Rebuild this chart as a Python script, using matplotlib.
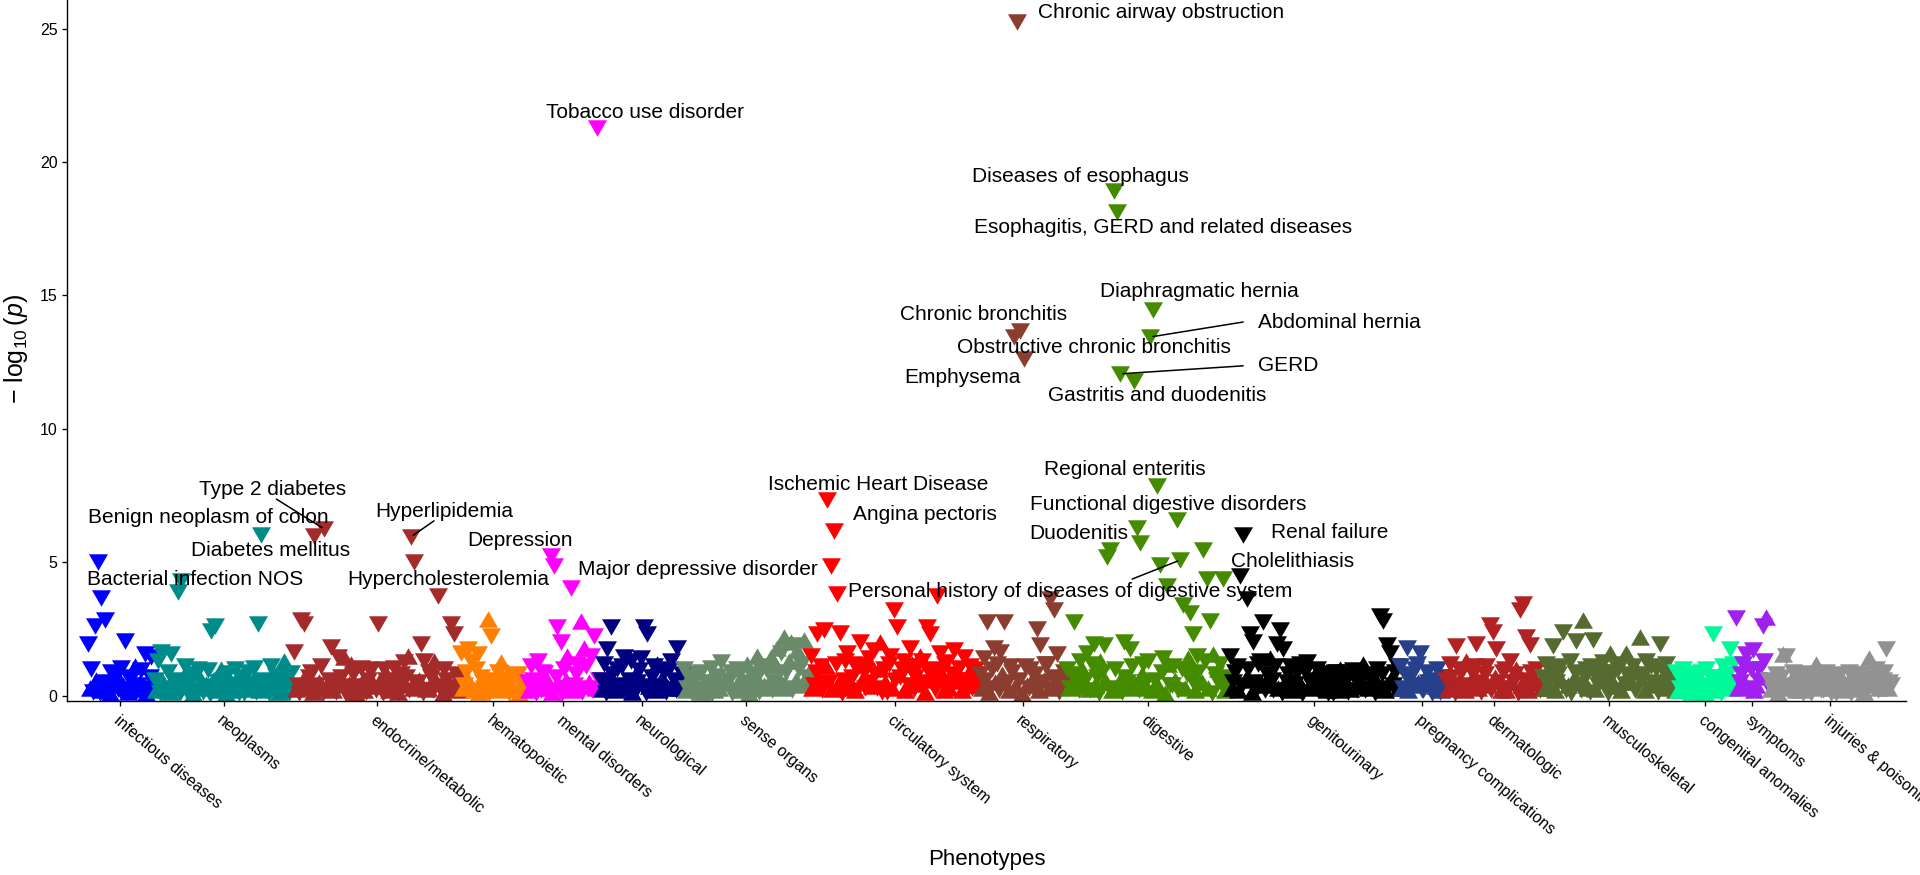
import numpy as np
import matplotlib.pyplot as plt

plt.rcParams['font.family'] = ['Liberation Sans', 'DejaVu Sans']
plt.rcParams['mathtext.fontset'] = 'custom'
plt.rcParams['mathtext.rm'] = 'Liberation Sans'
plt.rcParams['mathtext.it'] = 'Liberation Sans:italic'

#############################
# Data: -log10(p) per phenotype, in phecode order inside each group.
# Sign carries the direction of the association (negative -> downward triangle)
categories = ['infectious diseases', 'neoplasms', 'endocrine/metabolic', 'hematopoietic',
              'mental disorders', 'neurological', 'sense organs', 'circulatory system',
              'respiratory', 'digestive', 'genitourinary', 'pregnancy complications',
              'dermatologic', 'musculoskeletal', 'congenital anomalies', 'symptoms',
              'injuries & poisonings']
colors = ['#0000FF', '#008B8B', '#A52A2A', '#FF7F00', '#FF00FF', '#000080', '#698B69',
          '#FF0000', '#8B3E2F', '#458B00', '#000000', '#27408B', '#B22222', '#556B2F',
          '#00FA9A', '#A020F0', '#929292']

infectious = [-1.95, 0.3, -1.0, -0.15, -2.6, 0.6, -5.0, -0.1, -3.65, 0.2, -2.85, -0.5, 0.2, 0.1,
              -0.9, -0.3, 0.5, 0.8, -0.25, -0.2, -1.05, 0.4, -2.05, -0.1, 0.15, -0.6, -0.7, 0.25,
              1.1, -0.15, -0.4, 0.5, -0.95, -0.3, -1.55, 0.1, 0.3, -0.7, -1.45, 0.3]
neoplasms = [-0.6, 0.2, -1.3, -0.1, -1.65, 0.5, 0.3, -0.3, -0.9, 0.15, -1.55, -0.6, -0.2, 0.35,
             -3.9, -0.1, -4.3, 0.7, -1.1, -0.2, 0.4, -0.5, -0.75, 0.1, -0.15, -0.8, -1.0, 0.3,
             0.6, -0.15, -0.35, 0.45, -0.95, -0.05, -2.42, 0.6, -2.62, -0.3, -0.5, 0.2, 1.0, -0.6,
             -0.25, 0.1, -0.85, 0.4, 0.2, -0.2, -1.0, 0.55, -0.45, -0.1, 0.7, -0.7, -0.1, 0.25,
             -0.9, -0.3, -0.4, 0.6, -1.05, -0.15, -2.68, 0.2, -6.02, -0.5, -0.6, 0.35, 0.35, -0.1,
             -1.1, 0.5, -0.3, -0.75, 0.9, 0.15, -0.7, -0.3, 1.3, 0.65, -0.2, -0.1, -0.85, 0.3]
endocrine = [-1.63, 0.25, -0.4, -0.1, -2.85, 0.6, -2.7, -0.3, 0.3, -0.7, -0.9, 0.15, -5.98, -0.4,
             -0.2, 0.5, -1.1, -0.1, -6.24, 0.3, 0.5, -0.6, -1.83, 0.2, -0.3, -0.15, -1.45, 0.7,
             -0.7, -0.35, 1.45, -0.05, -0.15, 0.45, 1.2, -0.8, -0.9, 0.1, -0.35, -0.3, -1.05, 0.6,
             0.2, -0.15, -0.6, -1.0, -0.95, 0.35, 0.4, -0.2, -2.68, 0.5, -0.25, -0.1, -1.0, -0.6,
             0.7, 0.2, -0.45, -0.3, -1.05, 0.8, 0.15, -0.1, -0.8, 0.4, -1.25, -0.7, 1.5, -0.2,
             -5.95, 0.3, -5.0, -0.45, -0.5, 0.6, -1.95, -0.1, -1.3, 0.25, 0.3, -0.9, -0.7, -0.2,
             1.3, 0.55, -3.74, -0.35, -0.2, 0.1, -1.0, -0.6, 0.5, -0.15, -2.7, 0.4, -2.3, -0.8,
             -0.6, 0.2]
hematopoietic = [-1.6, 0.3, -0.4, -0.9, -1.75, 0.5, -1.3, -0.2, 0.2, -1.0, -1.55, 0.15, -0.7,
                 -0.5, -0.3, 0.7, 2.87, -0.1, -2.23, 0.3, 0.6, -0.6, -0.9, 0.2, 1.25, -0.35, -0.25,
                 0.55, 0.9, -0.1, -0.6, 0.25, -0.15, -0.7, -0.8, 0.1, 0.35, -0.3, -0.5, 0.6]
mental = [-0.5, 0.2, -1.1, -0.6, 0.3, -0.1, -1.3, 0.5, -0.2, -0.9, -0.85, 0.3, 0.6, -0.2, -5.25,
          0.15, -4.85, -0.7, -2.57, 0.4, -2.0, -0.1, -1.0, 0.6, 1.5, -0.3, -4.03, 0.2, -0.4, -0.8,
          -1.2, 0.35, 2.8, -0.15, 1.8, -1.1, -0.3, 0.5, -1.5, -0.2, -2.25, 0.3, -21.26, -0.6]
neurological = [-0.6, 0.25, -1.2, -0.1, -1.75, 0.6, -2.58, -0.8, -0.3, 0.2, -1.0, -0.4, 0.4, -1.1,
                -1.45, 0.3, -0.2, -0.6, -1.3, 0.15, 0.7, -0.2, -0.5, -0.95, -1.4, 0.5, -2.58, -0.1,
                -2.3, 0.35, -0.35, -0.7, -1.1, 0.2, 1.2, -0.3, -0.25, 0.65, -0.9, -0.15, 0.3, -1.0,
                -1.3, 0.4, -0.6, -0.2, -1.79, 0.3, -0.4, -0.8]
sense = [-1.0, 0.2, -0.3, -0.7, 0.8, -0.1, -0.6, 0.45, -0.15, -0.85, -0.9, 0.15, 0.35, -0.3, -0.5,
         0.6, -1.05, -0.1, 0.2, -0.75, -0.7, 0.3, -1.26, -0.2, -0.4, 0.5, 0.6, -0.6, -0.9, -0.1,
         -0.2, 0.35, -1.0, -0.8, 0.5, 0.2, -0.35, -0.5, 1.2, 0.1, -0.8, -0.3, -0.1, 0.7, 1.5, -0.15,
         -0.95, 0.3, 0.4, -1.0, -1.1, 0.5, 1.45, -0.2, -0.5, 1.1, 1.8, -0.4, -1.6, 0.3, 2.2, -0.9,
         -0.3, 1.3, 2.0, -0.2, -1.9, 0.6, 1.7, -1.0, -1.2, 0.4, 2.1, -0.3, -0.7, 0.9]
circulatory = [-1.5, 0.3, -0.4, -0.9, -2.3, 0.6, -1.1, -0.2, -2.45, 1.1, -7.35, -0.5, -4.85, 0.25,
               -6.18, -1.2, -3.82, 0.5, -2.35, -0.1, -0.6, -1.3, -1.6, 0.4, 0.3, -0.7, -1.2, 0.2,
               -0.2, -1.1, -2.0, 0.6, -0.9, -0.3, 1.4, -1.4, -0.5, 0.35, -1.7, -0.8, -0.3, 1.0, 2.0,
               -0.15, -1.0, 0.5, -0.15, -1.2, -1.5, 0.3, -3.2, -0.6, -2.57, 0.8, -0.7, -1.0, -1.3,
               0.2, 0.4, -0.4, -1.8, 1.2, -0.25, -0.7, -1.1, 0.45, 1.5, -1.3, -0.5, 0.15, -2.57,
               -0.9, -2.3, 0.6, -1.0, -0.25, -3.73, 1.0, -1.6, -0.5, 0.2, -1.2, -1.25, 0.3, -0.4,
               -0.8, -1.7, 0.55, 0.9, -1.05, -0.6, 0.2, -1.45, -0.6, -0.2, 0.9, -1.1, -0.3, 0.5,
               -1.0, -0.8, 0.4]
respiratory = [-0.8, 0.3, -1.4, -0.6, -2.76, 0.15, -0.3, -1.0, -1.8, 0.5, -1.2, -0.2, -1.65, 0.8,
               -2.76, -0.4, -0.5, 0.2, -1.1, -0.9, -13.45, 0.35, -25.25, -0.6, -13.65, 0.1, -12.63,
               -1.1, 0.4, -0.3, -1.0, 0.6, -0.25, -0.8, -2.5, 0.2, -1.9, -0.5, 0.6, -1.2, -1.2, 0.3,
               -3.62, -0.7, -3.2, 0.45, -1.55, -0.15, -0.4, 1.0, -0.9, -0.4]
digestive = [-1.0, 0.3, -0.3, -0.8, -2.76, 0.5, -0.6, -0.2, -1.3, 1.0, 0.4, -0.6, -1.6, 0.25, -0.2,
             -1.2, -1.95, 0.4, -0.7, -0.1, 1.3, -0.9, -1.9, 0.6, -5.2, -0.3, -5.45, 0.2, -18.9, -1.0,
             -18.14, 0.5, -12.06, -0.15, -2.0, -0.7, -0.5, 0.3, -1.75, -1.1, -11.8, 0.45, -6.28,
             -0.2, -5.72, 0.8, -1.2, -0.5, 0.3, -1.3, -13.44, 0.2, -14.46, -0.6, -7.86, 0.35, -4.9,
             -0.9, -1.4, 0.1, -4.1, 1.2, -0.4, -0.4, -1.1, 0.6, -6.58, -0.2, -5.08, -1.0, -3.4, 0.3,
             -0.8, 1.4, -3.1, -0.6, -2.3, 0.2, -1.5, -0.9, 0.5, 0.5, -5.46, -1.3, -4.38, 0.3, -2.8,
             -0.1, 1.55, -0.8, -0.6, 1.0, -1.2, -0.4, -4.38, 0.2, -0.3, -0.7]
genitourinary = [-1.5, 0.3, -0.5, -0.9, -1.1, 0.2, -4.5, -0.4, -6.02, 0.6, -3.62, -1.0, -2.3, 0.15,
                 -2.0, -0.5, -0.3, -1.2, -1.3, 0.4, -2.75, -0.2, -0.8, 0.7, 1.4, -0.6, -0.2, -1.1,
                 -1.95, 0.3, -2.45, -0.1, -1.75, 0.5, -0.5, -0.8, -1.1, 0.2, 0.3, -0.45, -0.9, 0.6,
                 -1.2, -0.1, -0.15, -0.9, -1.25, 0.3, -0.6, -0.35, 0.4, 0.8, -1.0, -0.2, -0.3, 0.4,
                 -0.85, -0.7, 0.2, -0.1, -0.6, 0.5, -0.1, -0.9, -0.9, 0.2, 1.0, -0.4, -0.4, 0.6,
                 -0.7, -0.15, 0.25, -0.8, -0.95, 0.35, -0.2, -0.5, -0.6, 0.9, 1.2, -0.2, -0.3, 0.3,
                 -0.8, -0.6, 0.5, -0.1, -1.0, 0.45, -3.0, -0.8, -2.8, 0.2, -1.9, -0.3, -1.6, 0.7,
                 -0.4, -0.9, -1.1, 0.3]
pregnancy = [-1.1, 0.3, -0.3, -0.8, -1.8, 0.2, -0.7, -0.4, 0.4, -1.0, -1.2, 0.5, -1.6, -0.2, -0.2,
             0.7, -0.9, -0.5, 0.6, -0.1, -0.4, 0.35, -1.0, -0.6, -0.15, 0.2, -0.7, -0.3]
dermatologic = [-0.6, 0.25, -1.2, -0.7, 0.3, -0.1, -1.85, 0.5, -0.4, -0.9, -1.0, 0.2, 1.3, -0.3,
                -0.2, 0.6, -0.8, -1.1, -1.95, 0.3, -0.5, -0.15, 0.6, -0.8, -1.1, 0.4, -2.65, -0.2,
                -2.4, 0.7, -1.75, -0.5, -0.3, 0.2, -0.9, -1.0, 0.2, -0.3, -1.3, 0.5, -0.5, -0.8,
                1.0, -0.1, -3.2, 0.4, -3.45, -0.6, -2.2, 0.2, -1.9, -0.9, -0.4, 0.6, -1.0, -0.3,
                -0.2, 0.3]
musculoskeletal = [-0.7, 0.3, -1.2, -0.5, 0.3, -1.0, -1.85, 0.2, -0.5, -0.8, -1.1, 0.6, -2.4, -0.3,
                   -0.2, 0.4, -1.3, -0.1, 0.6, -0.9, -2.05, 0.5, -0.4, -0.2, 2.83, -0.7, -1.0, 0.3,
                   -0.15, -1.1, -2.1, 0.25, -0.7, -0.4, 1.1, -0.9, -1.25, 0.6, -0.3, -0.1, 1.6,
                   -0.7, -0.9, 0.35, -0.2, -1.0, -1.2, 0.2, 0.5, -0.45, 1.6, -0.8, -0.6, 0.5, -1.1,
                   -0.2, -0.25, 0.9, 2.2, -0.6, -0.8, 0.2, -1.3, -0.3, 0.4, -1.1, -0.5, 0.45, -1.0,
                   -0.15, -1.95, 0.6, -0.3, -0.8, -1.2, 0.3, 0.7, -0.4, -0.6, 0.2]
congenital = [-0.9, 0.2, -0.3, -0.6, -1.0, 0.4, 0.2, -0.8, -0.6, 0.15, -0.1, -0.5, -0.85, 0.3, 0.5,
              -0.9, -0.4, 0.1, -1.0, 0.5, -0.2, -0.7, -2.3, 0.2, -0.7, -0.4, 0.9, -0.1, -1.1, 0.6,
              -0.4, -0.8, -1.75, 0.3, -1.2, -0.5]
symptoms = [-2.9, 0.3, -0.5, -0.8, -1.2, 0.5, -1.55, -0.2, -0.3, -1.0, -1.7, 0.2, 0.4, -0.6, -1.0,
            0.7, -2.6, -1.3, 2.95, -0.4]
injuries = [-0.6, 0.25, -0.2, -0.5, -0.8, 0.1, 0.3, -0.7, 1.55, 0.4, -1.5, -0.2, -0.4, 0.6, -0.9,
            -0.3, 0.2, -0.8, -0.6, 0.2, -0.1, -0.5, -0.85, 0.35, 0.5, -0.1, -0.3, -0.7, 1.2, 0.3,
            -0.7, -0.2, -0.2, 0.5, -0.9, -0.6, 0.4, -0.1, -0.5, 0.3, -0.1, -0.75, -0.8, 0.2, 0.6,
            -0.4, -0.35, 0.5, -0.9, -0.1, 0.25, -0.8, -0.6, 0.3, -0.15, -0.5, -0.8, 0.15, 0.5, -0.3,
            1.4, -0.7, -0.4, 0.4, -1.0, -0.2, 0.3, 0.6, -0.6, -0.9, -1.75, 0.3, -0.5, -0.4]

groups = [infectious, neoplasms, endocrine, hematopoietic, mental, neurological, sense,
          circulatory, respiratory, digestive, genitourinary, pregnancy, dermatologic,
          musculoskeletal, congenital, symptoms, injuries]

# labelled phenotypes: (group, position inside group, name)
labelled = [
    (8, 22, 'Chronic airway obstruction'),
    (4, 42, 'Tobacco use disorder'),
    (9, 28, 'Diseases of esophagus'),
    (9, 30, 'Esophagitis, GERD and related diseases'),
    (9, 52, 'Diaphragmatic hernia'),
    (9, 50, 'Abdominal hernia'),
    (9, 32, 'GERD'),
    (9, 40, 'Gastritis and duodenitis'),
    (8, 24, 'Chronic bronchitis'),
    (8, 20, 'Obstructive chronic bronchitis'),
    (8, 26, 'Emphysema'),
    (9, 54, 'Regional enteritis'),
    (9, 66, 'Functional digestive disorders'),
    (9, 42, 'Duodenitis'),
    (10, 8, 'Renal failure'),
    (9, 94, 'Cholelithiasis'),
    (9, 68, 'Personal history of diseases of digestive system'),
    (7, 10, 'Ischemic Heart Disease'),
    (7, 14, 'Angina pectoris'),
    (4, 26, 'Major depressive disorder'),
    (4, 14, 'Depression'),
    (2, 72, 'Hypercholesterolemia'),
    (2, 70, 'Hyperlipidemia'),
    (2, 18, 'Type 2 diabetes'),
    (2, 12, 'Diabetes mellitus'),
    (1, 64, 'Benign neoplasm of colon'),
    (0, 6, 'Bacterial infection NOS'),
]

# label placement (pixels right / up from the point), as placed by the repel step
label_offset = {
    'Chronic airway obstruction': (144, 9), 'Tobacco use disorder': (48, 16),
    'Diseases of esophagus': (-33, 15), 'Esophagitis, GERD and related diseases': (46, -16),
    'Diaphragmatic hernia': (46, 18), 'Abdominal hernia': (189, 15), 'GERD': (168, 8),
    'Gastritis and duodenitis': (24, -15), 'Chronic bronchitis': (-37, 17),
    'Obstructive chronic bronchitis': (80, -11), 'Emphysema': (-61, -19),
    'Regional enteritis': (-32, 16), 'Functional digestive disorders': (-9, 16),
    'Duodenitis': (-58, -5), 'Renal failure': (86, 2), 'Cholelithiasis': (69, 17),
    'Personal history of diseases of digestive system': (-110, -31),
    'Ischemic Heart Disease': (51, 15), 'Angina pectoris': (91, 16),
    'Major depressive disorder': (127, 19), 'Depression': (-31, 15),
    'Hypercholesterolemia': (34, -17), 'Hyperlipidemia': (33, 25),
    'Type 2 diabetes': (-52, 40), 'Diabetes mellitus': (-44, -14),
    'Benign neoplasm of colon': (-53, 17), 'Bacterial infection NOS': (97, -17),
}
# segment ends for labels pushed away from their point
segment_end = {
    'Abdominal hernia': (93, 15), 'GERD': (123, 8),
    'Personal history of diseases of digestive system': (-48, -19),
    'Hyperlipidemia': (23, 16), 'Type 2 diabetes': (-48, 30),
}

tri_down = [(-1, 0.866), (1, 0.866), (0, -0.866)]
tri_up = [(-1, -0.866), (1, -0.866), (0, 0.866)]

#############################
fig = plt.figure(figsize=(19.2, 8.75), dpi=100)
ax = fig.add_axes([67.3 / 1920, 1 - 700.7 / 875, (1906 - 67.3) / 1920, 700.7 / 875])

positions = []
ticks = []
start = 1
for vals, col in zip(groups, colors):
    vals = np.array(vals)
    x = np.arange(start, start + len(vals))
    positions.append(x)
    ticks.append(x.mean())
    down = vals < 0
    ax.scatter(x[down], -vals[down], marker=tri_down, s=187, color=col, linewidths=0, zorder=2)
    ax.scatter(x[~down], vals[~down], marker=tri_up, s=187, color=col, linewidths=0, zorder=2)
    start += len(vals)
n_total = start - 1

for g, k, name in labelled:
    px = positions[g][k]
    py = abs(groups[g][k])
    ax.annotate(name, xy=(px, py), xytext=label_offset[name], textcoords='offset pixels',
                ha='center', va='center', fontsize=15, color='black', zorder=4)
    if name in segment_end:
        ax.annotate('', xy=(px, py), xytext=segment_end[name], textcoords='offset pixels',
                    arrowprops=dict(arrowstyle='-', color='black', lw=1.1,
                                    shrinkA=0, shrinkB=2), zorder=3)

# first point sits 20.7 px right of the y axis, last one 15 px left of the panel end
step = (1891 - 88) / (n_total - 1)
ax.set_xlim(1 - 20.7 / step, n_total + 15 / step)
ax.set_ylim(-0.19, 26.07)
ax.set_yticks([0, 5, 10, 15, 20, 25])
ax.set_xticks(ticks)
ax.set_xticklabels(categories, rotation=-40, ha='left', va='top', rotation_mode='anchor')
ax.tick_params(axis='both', labelsize=11.5, length=3.6, width=0.95, color='black',
               labelcolor='black')
ax.tick_params(axis='y', pad=3.5)
ax.tick_params(axis='x', pad=5)
for s in ['top', 'right']:
    ax.spines[s].set_visible(False)
for s in ['left', 'bottom']:
    ax.spines[s].set_linewidth(1.0)
    ax.spines[s].set_zorder(5)

fig.text(987 / 1920, 1 - 860 / 875, 'Phenotypes', ha='center', va='center', fontsize=16)
fig.text(16 / 1920, 1 - 349 / 875, r'$-\ \log_{10}(p)$', ha='center', va='center',
         rotation=90, fontsize=18)

plt.savefig('out.png', dpi=100)
plt.close()
